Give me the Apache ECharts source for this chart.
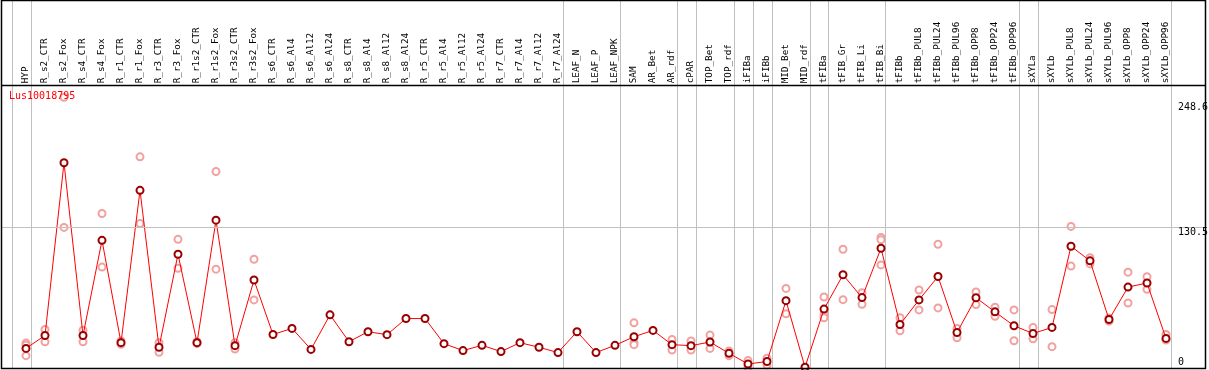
<!DOCTYPE html>
<html>
<head>
<meta charset="utf-8">
<script src="https://cdn.jsdelivr.net/npm/echarts@6/dist/echarts.min.js"></script>
<style>
html,body{margin:0;padding:0;background:#fff;}
#c{width:1209px;height:370px;}
</style>
</head>
<body>
<div id="c"></div>
<script>
const title = 'Lus10018795';
const categories = ['HYP','R_s2_CTR','R_s2_Fox','R_s4_CTR','R_s4_Fox','R_r1_CTR','R_r1_Fox','R_r3_CTR','R_r3_Fox','R_r1s2_CTR','R_r1s2_Fox','R_r3s2_CTR','R_r3s2_Fox','R_s6_CTR','R_s6_Al4','R_s6_Al12','R_s6_Al24','R_s8_CTR','R_s8_Al4','R_s8_Al12','R_s8_Al24','R_r5_CTR','R_r5_Al4','R_r5_Al12','R_r5_Al24','R_r7_CTR','R_r7_Al4','R_r7_Al12','R_r7_Al24','LEAF_N','LEAF_P','LEAF_NPK','SAM','AR_Bet','AR_rdf','cPAR','TOP_Bet','TOP_rdf','iFIBa','iFIBb','MID_Bet','MID_rdf','tFIBa','tFIB_Gr','tFIB_Li','tFIB_Bi','tFIBb','tFIBb_PUL8','tFIBb_PUL24','tFIBb_PUL96','tFIBb_OPP8','tFIBb_OPP24','tFIBb_OPP96','sXYLa','sXYLb','sXYLb_PUL8','sXYLb_PUL24','sXYLb_PUL96','sXYLb_OPP8','sXYLb_OPP24','sXYLb_OPP96'];
const means = [19.7,31.5,188.9,31.5,118.2,24.9,163.8,20.7,105.5,24.9,136.6,22.2,82.0,32.4,37.9,18.8,50.3,25.8,34.9,32.2,46.9,46.9,24.0,17.7,22.5,16.8,24.9,20.7,15.9,34.9,15.9,22.5,30.3,36.1,23.1,22.2,25.5,15.2,5.5,7.7,63.2,2.5,55.5,86.8,66.0,111.0,41.5,63.9,85.2,34.2,65.9,53.0,40.3,33.3,38.8,112.8,99.5,46.0,75.6,79.3,28.8];
const replicates = [
  [24.5,22.7,13.1],[37.0,25.8],[248.6,130.0],[36.3,25.8],[142.7,93.8],[26.5,23.4],[194.3,133.6],[24.9,16.1],[119.1,92.8],[25.8,24.0],[181.0,91.9],[24.9,19.1],[101.0,63.9],
  [],[],[],[],[],[],[],[],[],[],[],[],[],[],[],[],[],[],[],
  [43.0,24.9,23.1],[],[27.9,18.2],[26.4,18.2],[31.8,19.7],[17.3,13.1],[8.6,2.5],[10.7,4.6],[74.4,51.2],[],
  [66.6,50.8,47.6],[110.1,64.1],[70.5,59.9],[120.9,118.8,95.8],[47.6,35.8],[72.9,54.8],[114.6,56.6],[37.9,29.4],[71.1,59.6],[57.2,49.0],[54.8,26.7],[38.8,28.5],[55.1,21.3],[130.9,94.7],[102.4,96.7],[47.3,44.5],[89.2,61.1],[85.0,73.5],[32.4,27.3]
];
const yTickLabels = ['248.6','130.5','0'];
const yMax = 248.6;
const refLine = 130.5;
// group separators are drawn just after these category indices
const groupEnds = [-1,0,28,31,34,35,37,38,39,41,42,45,52,53,60];

const MONO = '"DejaVu Sans Mono", "Liberation Mono", monospace';
const chart = echarts.init(document.getElementById('c'), null, {renderer:'canvas'});

const meanData = means.map((v,i)=>[i,v]);
const repData = [];
replicates.forEach((arr,i)=>arr.forEach(v=>repData.push([i,v])));

chart.setOption({
  animation:false,
  backgroundColor:'#fff',
  grid:{left:1, right:4, top:97.3, height:274.5},
  xAxis:{
    type:'value', position:'top',
    min:-25/19, max:1179/19,
    axisLine:{show:false}, axisTick:{show:false}, splitLine:{show:false},
    axisLabel:{
      customValues: categories.map((c,i)=>i),
      formatter:v=>categories[Math.round(v)] || '',
      rotate:90, margin:14, color:'#000',
      fontFamily:MONO, fontSize:9.3
    }
  },
  yAxis:{
    type:'value', min:0, max:yMax,
    axisLine:{show:false}, axisTick:{show:false}, axisLabel:{show:false}, splitLine:{show:false}
  },
  series:[
    {
      type:'scatter', data:repData, symbol:'emptyCircle', symbolSize:7,
      itemStyle:{color:'#f2a0a0', borderWidth:1.1, opacity:1},
      clip:false, z:2
    },
    {
      type:'line', data:meanData, symbol:'emptyCircle', symbolSize:7, showAllSymbol:true,
      lineStyle:{color:'#ff0000', width:1},
      itemStyle:{color:'#9a0000', borderWidth:1.4},
      clip:false, z:3,
      markLine:{
        silent:true, symbol:'none', label:{show:false},
        lineStyle:{color:'#c0c0c0', width:1, type:'solid'},
        data:[{yAxis:refLine}]
      }
    }
  ]
});

const SEP_OFFSET = 4.5/19;
const gfx = [];
groupEnds.forEach(i=>{
  const x = Math.round(chart.convertToPixel({xAxisIndex:0}, i + SEP_OFFSET)) + 0.5;
  gfx.push({type:'line', shape:{x1:x,y1:0,x2:x,y2:369}, style:{stroke:'#c0c0c0', lineWidth:1}, z:1, silent:true});
});
// frame
gfx.push({type:'rect', shape:{x:1.5,y:0.5,width:1204,height:368}, style:{fill:null, stroke:'#000', lineWidth:1.5}, z:10, silent:true});
gfx.push({type:'line', shape:{x1:1,y1:85.5,x2:1206,y2:85.5}, style:{stroke:'#000', lineWidth:1.5}, z:10, silent:true});
// title
gfx.push({type:'text', x:9, y:91.5, style:{text:title, fill:'#ff0000', font:'10px '+MONO, textVerticalAlign:'top'}, z:11});
// right axis labels
const labelTops = [102.5, 227, 357];
yTickLabels.forEach((t,k)=>{
  gfx.push({type:'text', x:1178, y:labelTops[k], style:{text:t, fill:'#000', font:'10px '+MONO, textVerticalAlign:'top'}, z:11});
});
chart.setOption({graphic:gfx});
</script>
</body>
</html>
